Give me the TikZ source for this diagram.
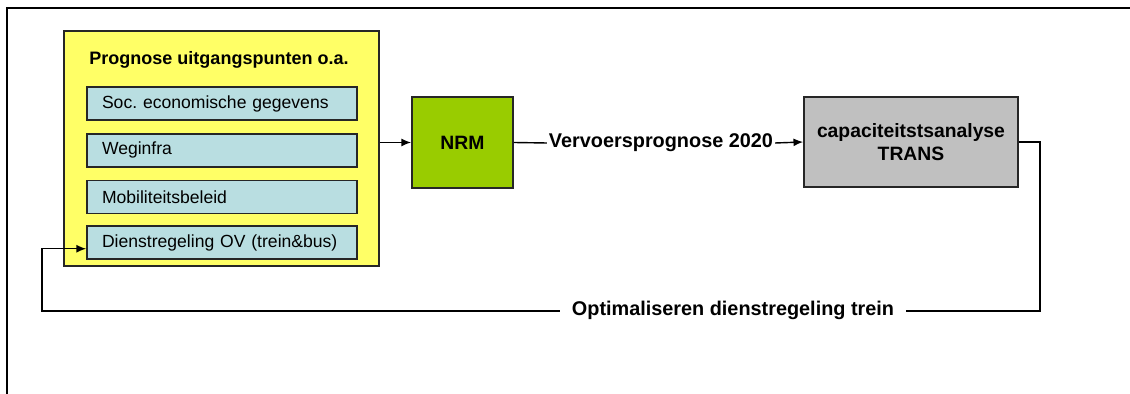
\documentclass[tikz,border=0pt]{standalone}
\usepackage{fontspec}
\setmainfont{Liberation Sans}
\usetikzlibrary{positioning,arrows.meta}
\definecolor{progyellow}{HTML}{FFFF66}
\definecolor{itemblue}{HTML}{B9DEE1}
\definecolor{nrmgreen}{HTML}{99CC00}
\definecolor{transgray}{HTML}{C0C0C0}

\begin{document}
\begin{tikzpicture}[x=0.02cm,y=-0.02cm,>={Latex[length=5.5pt,width=4.5pt]},
   box/.style={draw=black!85,line width=1pt},
   item/.style={box,fill=itemblue,minimum width=5.4cm,minimum height=0.66cm,
      inner xsep=0.3cm,text width=4.8cm,align=left,font=\fontsize{10}{12}\selectfont},
   lbl/.style={font=\bfseries\fontsize{11.3}{13}\selectfont,inner sep=1pt},
   conn/.style={line width=0.8pt}]
   \useasboundingbox (0,0) rectangle (1130,394);
   % frame
   \draw[line width=1.5pt] (7,394) -- (7,8) -- (1130,8);
   % input block
   \node[box,fill=progyellow,minimum width=6.3cm,minimum height=4.7cm] (prog) at (221.5,148.5) {};
   \node[item] (soc) at (222,103.5) {Soc.\ economische gegevens};
   \node[item,below=0.24cm of soc] (weg) {Weginfra};
   \node[item,below=0.24cm of weg] (mob) {Mobiliteitsbeleid};
   \node[item,below=0.22cm of mob] (dienst) {Dienstregeling OV (trein\&bus)};
   \node[font=\bfseries\fontsize{10.25}{12}\selectfont] (progtitle) at (219,60) {Prognose uitgangspunten o.a.};
   % models
   \node[box,fill=nrmgreen,minimum width=2.02cm,minimum height=1.82cm,
      font=\bfseries\fontsize{11}{13}\selectfont] (nrm) at (462.5,142.5) {NRM};
   \node[box,fill=transgray,minimum width=4.28cm,minimum height=1.8cm,align=center,
      font=\bfseries\fontsize{11}{13}\selectfont] (trans) at (911,142) {capaciteitstsanalyse\\TRANS};
   \node[lbl] (vervoer) at (661,143) {Vervoersprognose 2020};
   \draw[conn,->] (prog.east |- nrm.west) -- (nrm.west);
   \draw[conn] (nrm.east) -- (vervoer.west);
   \draw[conn,->] (vervoer.east) -- (trans.west);
   % feedback loop
   \coordinate (fbR) at (1040,311);
   \coordinate (fbL) at (42,311);
   \draw[conn,->] (trans.east) -| (fbR) -- (fbL) |- ([yshift=-0.12cm]dienst.west);
   \node[lbl,fill=white,inner xsep=7pt] (optim) at (733,310) {Optimaliseren dienstregeling trein};
\end{tikzpicture}
\end{document}
